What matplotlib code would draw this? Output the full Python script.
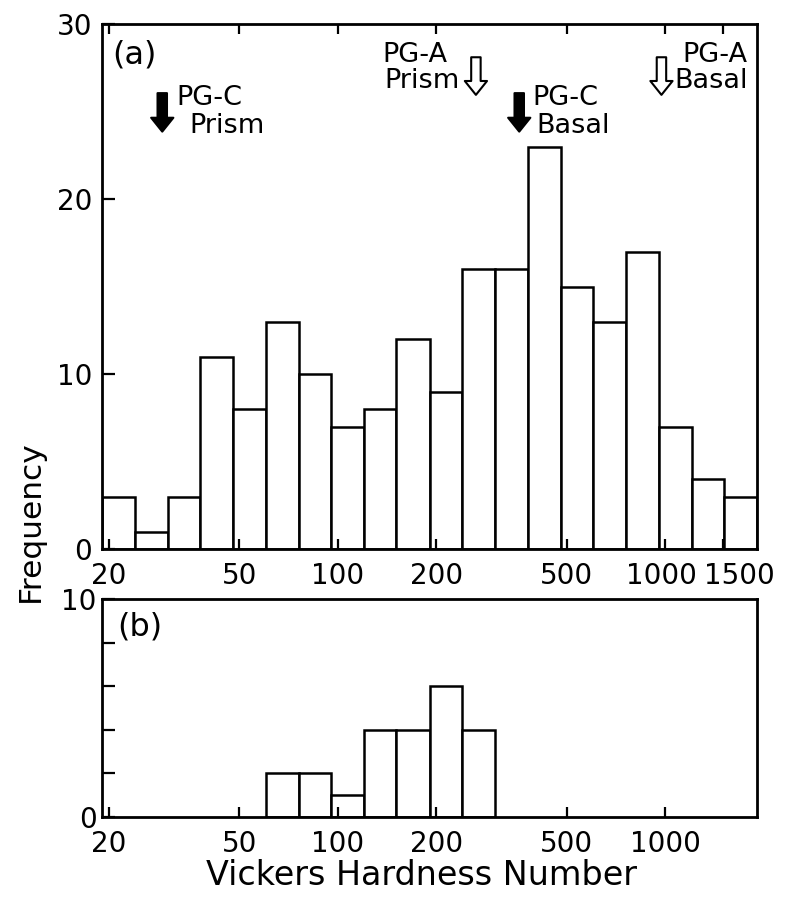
import matplotlib
matplotlib.use('Agg')
import matplotlib.pyplot as plt
from matplotlib.ticker import FixedLocator, FixedFormatter, NullLocator
from matplotlib.transforms import ScaledTranslation

# histogram bins (Vickers hardness, 10 bins per decade)
bin_edges = [19.05, 24.0, 30.2, 38.0, 47.9, 60.3, 75.9, 95.5, 120, 151, 191,
             240, 302, 380, 479, 603, 759, 955, 1202, 1514, 1905]
counts_a = [3, 1, 3, 11, 8, 13, 10, 7, 8, 12, 9, 16, 16, 23, 15, 13, 17, 7, 4, 3]
counts_b = [0, 0, 0, 0, 0, 2, 2, 1, 4, 4, 6, 4, 0, 0, 0, 0, 0, 0, 0, 0]

xticks_a = [20, 50, 100, 200, 500, 1000, 1500]
xticks_b = [20, 50, 100, 200, 500, 1000]

# reference hardness of the graphite samples (arrows in panel a)
ref_names = ['PG-C', 'PG-A', 'PG-C', 'PG-A']
ref_planes = ['Prism', 'Prism', 'Basal', 'Basal']
ref_values = [29.1, 264, 358, 973]
ref_filled = [True, False, True, False]

plt.rcParams['font.family'] = ['DejaVu Sans']

fig = plt.figure(figsize=(7.87, 8.99), dpi=100)
ax_a = fig.add_axes([0.1296, 0.3893, 0.8323, 0.5840])
ax_b = fig.add_axes([0.1296, 0.0912, 0.8323, 0.2425])


def draw_hist(ax, counts):
    lefts = [bin_edges[i] for i in range(len(counts)) if counts[i] > 0]
    widths = [bin_edges[i + 1] - bin_edges[i] for i in range(len(counts)) if counts[i] > 0]
    heights = [c for c in counts if c > 0]
    ax.bar(lefts, heights, width=widths, align='edge', facecolor='white',
           edgecolor='black', linewidth=1.8)


def style_axis(ax, xticks):
    ax.set_xscale('log')
    ax.set_xlim(bin_edges[0], bin_edges[-1])
    ax.xaxis.set_major_locator(FixedLocator(xticks))
    ax.xaxis.set_major_formatter(FixedFormatter([str(t) for t in xticks]))
    ax.xaxis.set_minor_locator(NullLocator())
    for s in ax.spines.values():
        s.set_linewidth(2.0)
    ax.tick_params(axis='both', direction='in', width=1.6, labelsize=20)
    ax.tick_params(axis='x', length=7, pad=9)
    ax.tick_params(axis='y', length=9, pad=7)


draw_hist(ax_a, counts_a)
style_axis(ax_a, xticks_a)
ax_a.tick_params(axis='x', top=True)
ax_a.set_ylim(0, 30)
ax_a.set_yticks([0, 10, 20, 30])

draw_hist(ax_b, counts_b)
style_axis(ax_b, xticks_b)
ax_b.tick_params(axis='y', pad=4)
ax_b.set_ylim(0, 10)
ax_b.set_yticks([0, 2, 4, 6, 8, 10])
ax_b.set_yticklabels(['0', '', '', '', '', '10'])

ax_a.text(0.016, 0.941, '(a)', transform=ax_a.transAxes, fontsize=23, va='center')
ax_b.text(0.023, 0.872, '(b)', transform=ax_b.transAxes, fontsize=23, va='center')

# arrows and labels
for name, plane, val, filled in zip(ref_names, ref_planes, ref_values, ref_filled):
    if filled:
        tail, tip = 26.05, 23.85
        fc = 'black'
        y1, y2 = 25.77, 24.2
    else:
        tail, tip = 28.1, 25.95
        fc = 'white'
        y1, y2 = 28.23, 26.75
    ax_a.annotate('', xy=(val, tip), xytext=(val, tail),
                  arrowprops=dict(arrowstyle='simple,head_length=0.5,head_width=0.8,tail_width=0.34',
                                  mutation_scale=20, shrinkA=0, shrinkB=0,
                                  fc=fc, ec='black', lw=1.5))
    if not filled and plane == 'Prism':
        # label sits on the left of this arrow
        offs = [(-20.5, 'right'), (-12, 'right')]
    elif filled and plane == 'Prism':
        offs = [(10, 'left'), (19.5, 'left')]
    elif filled:
        offs = [(9.4, 'left'), (12, 'left')]
    else:
        # right-hand label, kept inside the frame
        offs = [(62, 'right'), (62, 'right')]
    for txt, yy, (dx, ha) in zip([name, plane], [y1, y2], offs):
        ax_a.annotate(txt, xy=(val, yy), xytext=(dx, 0), textcoords='offset points',
                      ha=ha, va='center', fontsize=19.5)

# spread the crowded 1000 / 1500 labels like the original
fig.canvas.draw()
shifts = {'1000': -3, '1500': 12}
for lab in ax_a.get_xticklabels():
    if lab.get_text() in shifts:
        lab.set_transform(lab.get_transform() +
                          ScaledTranslation(shifts[lab.get_text()] / 72, 0, fig.dpi_scale_trans))

fig.text(0.039, 0.4205, 'Frequency', rotation=90, ha='center', va='center', fontsize=22.5)
fig.text(0.536, 0.0256, 'Vickers Hardness Number', ha='center', va='center', fontsize=24)

fig.savefig('out.png', dpi=100)
